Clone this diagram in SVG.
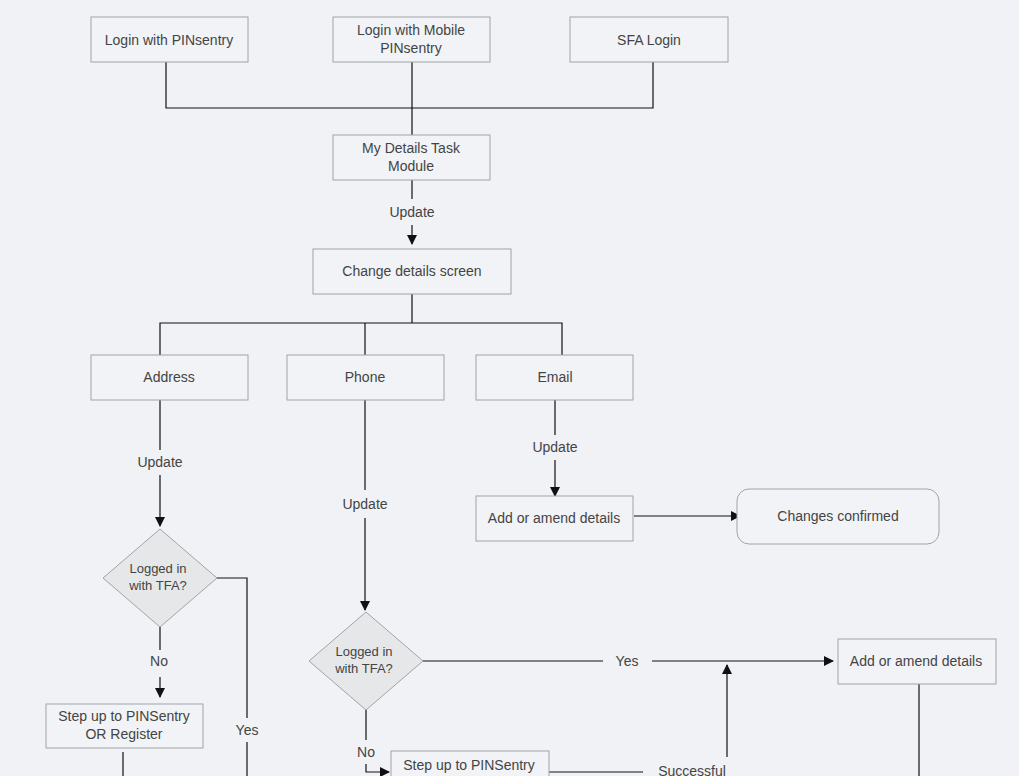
<svg xmlns="http://www.w3.org/2000/svg" width="1019" height="776" viewBox="0 0 1019 776">
<defs>
<marker id="a" markerWidth="10" markerHeight="10" refX="9" refY="5" orient="auto" markerUnits="userSpaceOnUse"><path d="M0,0 L10,5 L0,10 z" fill="#111"/></marker>
<style>
.b{fill:#f1f3f6;stroke:#a0a4a8;stroke-width:1}
.d{fill:#e6e7e9;stroke:#a0a4a8;stroke-width:1}
.t{font-family:"Liberation Sans",Arial,sans-serif;font-size:14px;fill:#444;text-anchor:middle}
.s{font-size:13px}
.l{fill:none;stroke:#111;stroke-width:1.2}
</style>
</defs>
<rect width="1019" height="776" fill="#f0f2f5"/>
<g id="connectors">
<path class="l" d="M166,62 V108 H653 V62 M412,62 V135"/>
<path class="l" d="M412,180 V199"/>
<path class="l" d="M412,225 V244" marker-end="url(#a)"/>
<path class="l" d="M412,294 V323 M160,355 V323 H562 V355 M365,323 V355"/>
<path class="l" d="M160,400 V450 M160,475 V526" marker-end="url(#a)"/>
<path class="l" d="M365,400 V490 M365,518 V610" marker-end="url(#a)"/>
<path class="l" d="M555,400 V435 M555,460 V496" marker-end="url(#a)"/>
<path class="l" d="M634,516 H740" marker-end="url(#a)"/>
<path class="l" d="M160,627 V650 M160,677 V697" marker-end="url(#a)"/>
<path class="l" d="M217,578 H247 V718 M247,742 V776"/>
<path class="l" d="M123,752 V776"/>
<path class="l" d="M423,661 H603 M652,661 H833" marker-end="url(#a)"/>
<path class="l" d="M727,757 V665" marker-end="url(#a)"/>
<path class="l" d="M366,710 V740 M366,764 V772 H389" marker-end="url(#a)"/>
<path class="l" d="M549,772 H643"/>
<path class="l" d="M919,684 V776"/>
</g>
<g id="n1"><rect class="b" x="91" y="17" width="157" height="45"/><text class="t" x="169" y="45">Login with PINsentry</text></g>
<g id="n2"><rect class="b" x="333" y="17" width="157" height="45"/><text class="t" x="411" y="35">Login with Mobile</text><text class="t" x="411" y="53">PINsentry</text></g>
<g id="n3"><rect class="b" x="570" y="17" width="158" height="45"/><text class="t" x="649" y="45">SFA Login</text></g>
<g id="n4"><rect class="b" x="333" y="135" width="157" height="45"/><text class="t" x="411" y="153">My Details Task</text><text class="t" x="411" y="171">Module</text></g>
<text class="t" x="412" y="217">Update</text>
<g id="n5"><rect class="b" x="313" y="249" width="198" height="45"/><text class="t" x="412" y="276">Change details screen</text></g>
<g id="n6"><rect class="b" x="91" y="355" width="157" height="45"/><text class="t" x="169" y="382">Address</text></g>
<g id="n7"><rect class="b" x="287" y="355" width="157" height="45"/><text class="t" x="365" y="382">Phone</text></g>
<g id="n8"><rect class="b" x="476" y="355" width="157" height="45"/><text class="t" x="555" y="382">Email</text></g>
<text class="t" x="160" y="467">Update</text>
<text class="t" x="365" y="509">Update</text>
<text class="t" x="555" y="452">Update</text>
<g id="n9"><rect class="b" x="476" y="496" width="157" height="45"/><text class="t" x="554" y="523">Add or amend details</text></g>
<g id="n10"><rect class="b" x="737" y="489" width="202" height="55" rx="12"/><text class="t" x="838" y="521">Changes confirmed</text></g>
<g id="n11"><path class="d" d="M160,529 L217,578 L160,627 L103,578 Z"/><text class="t s" x="158" y="573">Logged in</text><text class="t s" x="158" y="590">with TFA?</text></g>
<text class="t" x="159" y="666">No</text>
<text class="t" x="247" y="735">Yes</text>
<g id="n12"><rect class="b" x="46" y="704" width="157" height="44"/><text class="t" x="124" y="721">Step up to PINSentry</text><text class="t" x="124" y="739">OR Register</text></g>
<g id="n13"><path class="d" d="M366,612 L423,661 L366,710 L309,661 Z"/><text class="t s" x="364" y="656">Logged in</text><text class="t s" x="364" y="673">with TFA?</text></g>
<text class="t" x="627" y="666">Yes</text>
<text class="t" x="366" y="757">No</text>
<g id="n14"><rect class="b" x="838" y="639" width="158" height="45"/><text class="t" x="916" y="666">Add or amend details</text></g>
<g id="n15"><rect class="b" x="391" y="751" width="158" height="40"/><text class="t" x="469" y="770">Step up to PINSentry</text></g>
<text class="t" x="692" y="776">Successful</text>
</svg>
